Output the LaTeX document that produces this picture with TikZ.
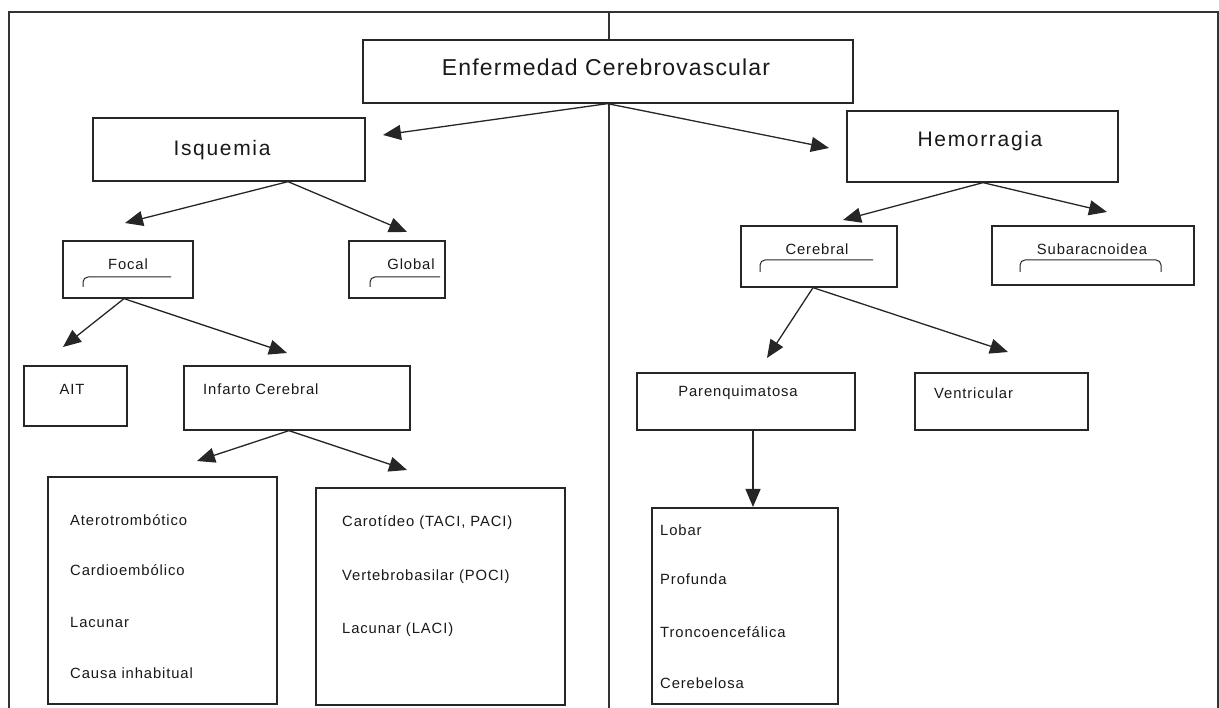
\documentclass[tikz,border=0pt]{standalone}
\usepackage{fontspec}
\setmainfont{Liberation Sans}
\newfontfamily\smfont[LetterSpace=6]{Liberation Sans}
\newfontfamily\ttlfont[LetterSpace=5]{Liberation Sans}
\newfontfamily\midfont[LetterSpace=8]{Liberation Sans}
\usetikzlibrary{arrows.meta,calc}
\newcommand{\bx}[5]{\node[box, minimum width={(#4-#2)*1pt}, minimum height={(#5-#3)*1pt}] (#1) at ({(#2+#4)/2},{(#3+#5)/2}) {};}
\begin{document}
\begin{tikzpicture}[x=1pt,y=-1pt,
  box/.style={draw=black!85, line width=1.3pt, fill=white, inner sep=0pt},
  arr/.style={draw=black!85, line width=1.3pt, -{Triangle[length=18pt,width=15pt]}},
  hook/.style={draw=black!85, line width=1pt, rounded corners=5pt},
  frame/.style={draw=black!80, line width=1.4pt},
  small/.style={font=\smfont\fontsize{14.8}{17}\selectfont, text=black!90, inner sep=0pt},
  mid/.style={font=\midfont\fontsize{21}{25}\selectfont, text=black!90, inner sep=0pt},
  big/.style={font=\ttlfont\fontsize{23}{27}\selectfont, text=black!90, inner sep=0pt}]
\useasboundingbox (0,0) rectangle (1219,708);
% frame
\draw[frame] (9,708) -- (9,12) -- (1218,12) -- (1218,708);
\draw[frame] (609,12) -- (609,708);
% boxes
\bx{main}{363}{40}{853}{103}
\bx{isq}{93}{118}{365}{181}
\bx{hem}{847}{111}{1118}{182}
\bx{focal}{63}{241}{193}{298}
\bx{global}{349}{241}{445}{298}
\bx{cereb}{741}{226}{897}{287}
\bx{subar}{992}{226}{1194}{285}
\bx{ait}{24}{366}{127}{426}
\bx{infarto}{184}{366}{410}{430}
\bx{parenq}{637}{373}{855}{430}
\bx{ventr}{915}{373}{1088}{430}
\bx{atero}{48}{477}{277}{704}
\bx{carot}{316}{488}{565}{705}
\bx{lobar}{652}{508}{838}{704}
% texts
\node[big] (tMain) at (606,67) {Enfermedad Cerebrovascular};
\node[mid] (tIsq) at (222,150) {Isquemia};
\node[mid] (tHem) at (980,141) {Hemorragia};
\node[small] (tFocal) at (128,264) {Focal};
\node[small] (tGlobal) at (411,264) {Global};
\node[small] (tCereb) at (817,249) {Cerebral};
\node[small] (tSubar) at (1092,249) {Subaracnoidea};
\node[small] (tAit) at (72,389) {AIT};
\node[small, anchor=west] (tInf) at (203,389) {Infarto Cerebral};
\node[small] (tPar) at (738,393) {Parenquimatosa};
\node[small, anchor=west] (tVen) at (934,393) {Ventricular};
\node[small, anchor=west] (a1) at (70,520) {Aterotrombótico};
\node[small, anchor=west] (a2) at (70,570) {Cardioembólico};
\node[small, anchor=west] (a3) at (70,622) {Lacunar};
\node[small, anchor=west] (a4) at (70,673) {Causa inhabitual};
\node[small, anchor=west] (c1) at (342,523) {Carotídeo (TACI, PACI)};
\node[small, anchor=west] (c2) at (342,577) {Vertebrobasilar (POCI)};
\node[small, anchor=west] (c3) at (342,630) {Lacunar (LACI)};
\node[small, anchor=west] (l1) at (660,530) {Lobar};
\node[small, anchor=west] (l2) at (660,579) {Profunda};
\node[small, anchor=west] (l3) at (660,632) {Troncoencefálica};
\node[small, anchor=west] (l4) at (660,683) {Cerebelosa};
% hooks
\draw[hook] (83,287) -- (83,277) -- (171,277);
\draw[hook] (370,287) -- (370,277) -- (440,277);
\draw[hook] (760,272) -- (760,260) -- (873,260);
\draw[hook] (1020,272) -- (1020,260) -- (1161,260) -- (1161,272);
% arrow tips
\coordinate (pIsq) at (383,135);
\coordinate (pHem) at (829,148);
\coordinate (pFocal) at (125,223);
\coordinate (pGlobal) at (407,232);
\coordinate (pCereb) at (843,220);
\coordinate (pSubar) at (1107,212);
\coordinate (pAit) at (63,347);
\coordinate (pInf) at (287,353);
\coordinate (pAtero) at (197,461);
\coordinate (pCarot) at (407,470);
\coordinate (pPar) at (767,358);
\coordinate (pVen) at (1008,352);
\coordinate (pLobar) at (753,507);
% arrows
\draw[arr] ([xshift=-0.5pt]main.south) -- (pIsq);
\draw[arr] ([xshift=-0.5pt]main.south) -- (pHem);
\draw[arr] ([xshift=59pt]isq.south) -- (pFocal);
\draw[arr] ([xshift=59pt]isq.south) -- (pGlobal);
\draw[arr] ([xshift=0.5pt]hem.south) -- (pCereb);
\draw[arr] ([xshift=0.5pt]hem.south) -- (pSubar);
\draw[arr] ([xshift=-4pt]focal.south) -- (pAit);
\draw[arr] ([xshift=-4pt]focal.south) -- (pInf);
\draw[arr] ([xshift=-8pt]infarto.south) -- (pAtero);
\draw[arr] ([xshift=-8pt]infarto.south) -- (pCarot);
\draw[arr] ([xshift=-6pt]cereb.south) -- (pPar);
\draw[arr] ([xshift=-6pt]cereb.south) -- (pVen);
\draw[arr] ([xshift=7pt]parenq.south) -- (pLobar);
\end{tikzpicture}
\end{document}
